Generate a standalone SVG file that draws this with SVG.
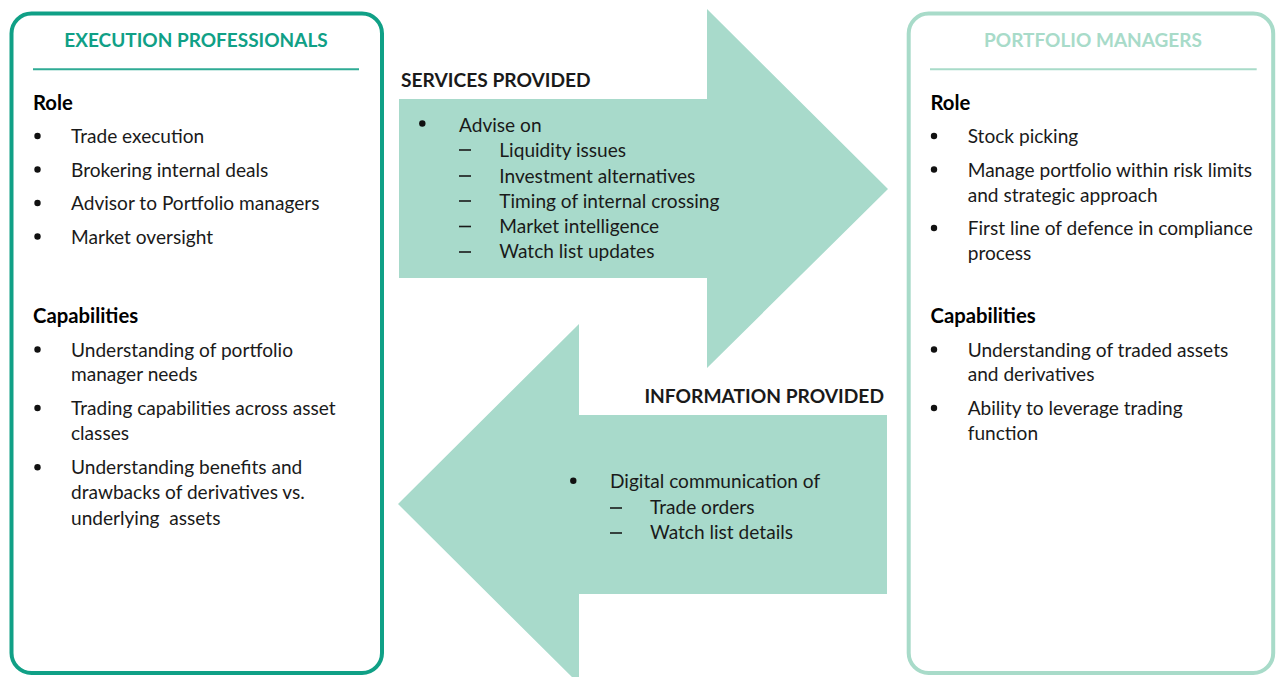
<svg xmlns="http://www.w3.org/2000/svg" width="1276" height="677" viewBox="0 0 1276 677">
<style>
  text { font-family: Lato, "Open Sans", "Liberation Sans", sans-serif; fill: #1a1a1a; font-size: 19.1px; }
  .h { font-weight: bold; font-size: 19px; }
  .h1 { fill: #10a086; }
  .h2 { fill: #a8dbc9; }
  .sub { font-weight: bold; font-size: 20.3px; fill: #000; }
  .mid { font-weight: bold; font-size: 19.2px; }
  .arrow { fill: #a8dacb; }
  .dot { fill: #111; }
  .dash { stroke: #1a1a1a; stroke-width: 1.6; }
</style>
<g id="connectors">
  <polygon id="services-arrow" class="arrow" points="399,99 707,99 707,9 888,189 707,368 707,278 399,278"/>
  <polygon id="information-arrow" class="arrow" points="887,415 579,415 579,324 398,504 579,684 579,594 887,594"/>
</g>
<g id="execution-professionals">
  <rect x="11.5" y="13.5" width="370.5" height="659.5" rx="20" fill="none" stroke="#10a086" stroke-width="4"/>
  <line x1="33" y1="69.3" x2="359" y2="69.3" stroke="#2fab95" stroke-width="2"/>
  <text class="h h1" x="196" y="47" text-anchor="middle">EXECUTION PROFESSIONALS</text>
  <text class="sub" x="33" y="110">Role</text>
  <circle class="dot" cx="37.5" cy="136" r="3.2"/>
  <text x="71" y="143">Trade execution</text>
  <circle class="dot" cx="37.5" cy="169.5" r="3.2"/>
  <text x="71" y="176.5">Brokering internal deals</text>
  <circle class="dot" cx="37.5" cy="203" r="3.2"/>
  <text x="71" y="210">Advisor to Portfolio managers</text>
  <circle class="dot" cx="37.5" cy="236.5" r="3.2"/>
  <text x="71" y="243.5">Market oversight</text>
  <text class="sub" x="33" y="323.3">Capabilities</text>
  <circle class="dot" cx="37.5" cy="349.5" r="3.2"/>
  <text x="71" y="356.7">Understanding of portfolio</text>
  <text x="71" y="381">manager needs</text>
  <circle class="dot" cx="37.5" cy="408" r="3.2"/>
  <text x="71" y="415">Trading capabilities across asset</text>
  <text x="71" y="440">classes</text>
  <circle class="dot" cx="37.5" cy="467.3" r="3.2"/>
  <text x="71" y="474.3">Understanding benefits and</text>
  <text x="71" y="499.3">drawbacks of derivatives vs.</text>
  <text x="71" y="525" xml:space="preserve">underlying  assets</text>
</g>
<g id="services-provided">
  <text class="mid" x="401" y="87.3">SERVICES PROVIDED</text>
  <circle class="dot" cx="422.3" cy="123.5" r="3.2"/>
  <text x="459" y="131.5">Advise on</text>
  <line class="dash" x1="459" y1="150" x2="471" y2="150"/>
  <text x="499.3" y="156.7">Liquidity issues</text>
  <line class="dash" x1="459" y1="176" x2="471" y2="176"/>
  <text x="499.3" y="182.5">Investment alternatives</text>
  <line class="dash" x1="459" y1="201" x2="471" y2="201"/>
  <text x="499.3" y="207.7">Timing of internal crossing</text>
  <line class="dash" x1="459" y1="226.5" x2="471" y2="226.5"/>
  <text x="499.3" y="233.3">Market intelligence</text>
  <line class="dash" x1="459" y1="252" x2="471" y2="252"/>
  <text x="499.3" y="258.3">Watch list updates</text>
</g>
<g id="information-provided">
  <text class="mid" x="884" y="403.3" text-anchor="end">INFORMATION PROVIDED</text>
  <circle class="dot" cx="573.3" cy="480.7" r="3.2"/>
  <text x="610" y="488.3">Digital communication of</text>
  <line class="dash" x1="610" y1="508" x2="622" y2="508"/>
  <text x="650" y="514.3">Trade orders</text>
  <line class="dash" x1="610" y1="533" x2="622" y2="533"/>
  <text x="650" y="539.3">Watch list details</text>
</g>
<g id="portfolio-managers">
  <rect x="908.7" y="13.5" width="364.5" height="659.5" rx="20" fill="none" stroke="#a8dbc9" stroke-width="4"/>
  <line x1="930" y1="69.3" x2="1256.7" y2="69.3" stroke="#a8dbc9" stroke-width="2"/>
  <text class="h h2" x="1093" y="47" text-anchor="middle">PORTFOLIO MANAGERS</text>
  <text class="sub" x="930.5" y="110">Role</text>
  <circle class="dot" cx="934" cy="136" r="3.2"/>
  <text x="967.7" y="143.3">Stock picking</text>
  <circle class="dot" cx="934" cy="169.5" r="3.2"/>
  <text x="967.7" y="176.7">Manage portfolio within risk limits</text>
  <text x="967.7" y="201.7">and strategic approach</text>
  <circle class="dot" cx="934" cy="228" r="3.2"/>
  <text x="967.7" y="235">First line of defence in compliance</text>
  <text x="967.7" y="260">process</text>
  <text class="sub" x="930.5" y="323.3">Capabilities</text>
  <circle class="dot" cx="934" cy="349.5" r="3.2"/>
  <text x="967.7" y="356.7">Understanding of traded assets</text>
  <text x="967.7" y="381">and derivatives</text>
  <circle class="dot" cx="934" cy="408" r="3.2"/>
  <text x="967.7" y="415">Ability to leverage trading</text>
  <text x="967.7" y="440">function</text>
</g>
</svg>
